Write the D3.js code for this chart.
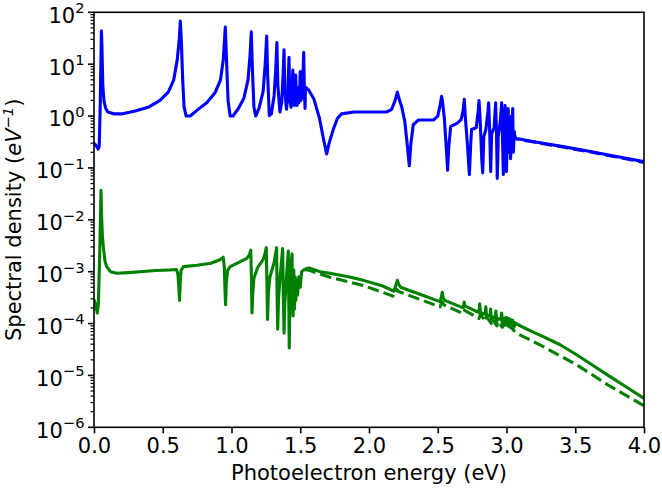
<!DOCTYPE html>
<html><head><meta charset="utf-8">
<script src="https://cdn.jsdelivr.net/npm/d3@7"></script>
<style>html,body{margin:0;padding:0;background:#fff}svg{display:block}text{font-family:"DejaVu Sans",sans-serif;fill:#000}</style>
</head><body>
<svg id="chart" width="662" height="488"></svg>
<script>
// ---- data (photoelectron energy in eV, spectral density in eV^-1) ----
const blueE = [0.000,0.015,0.030,0.038,0.045,0.050,0.054,0.058,0.064,0.072,0.085,0.10,0.15,0.20,0.30,0.40,0.48,0.54,0.58,0.605,0.62,0.628,0.636,0.645,0.655,0.67,0.70,0.75,0.82,0.88,0.92,0.94,0.955,0.965,0.975,0.99,1.01,1.05,1.09,1.12,1.135,1.144,1.152,1.163,1.176,1.20,1.23,1.245,1.256,1.263,1.275,1.29,1.31,1.322,1.33,1.337,1.352,1.365,1.375,1.382,1.388,1.40,1.41,1.418,1.424,1.433,1.44,1.446,1.451,1.457,1.462,1.467,1.472,1.477,1.485,1.49,1.495,1.50,1.505,1.51,1.515,1.52,1.525,1.53,1.535,1.538,1.56,1.60,1.64,1.67,1.692,1.71,1.74,1.77,1.80,1.89,2.00,2.13,2.165,2.19,2.206,2.22,2.238,2.26,2.28,2.293,2.305,2.322,2.36,2.47,2.50,2.515,2.528,2.537,2.548,2.56,2.572,2.58,2.594,2.64,2.67,2.685,2.693,2.70,2.715,2.73,2.74,2.746,2.78,2.795,2.80,2.808,2.82,2.827,2.835,2.85,2.865,2.87,2.878,2.885,2.892,2.91,2.921,2.927,2.933,2.94,2.955,2.965,2.971,2.977,2.983,2.99,2.995,3.00,3.006,3.012,3.018,3.024,3.03,3.036,3.042,3.045,3.05,3.056,3.062,3.074,3.20,3.40,3.60,3.80,4.00];
const blueV = [0.30,0.27,0.23,0.26,1.5,10,44,20,4,2.0,1.4,1.2,1.1,1.1,1.25,1.5,2.0,2.9,5,12,30,68,25,5,1.5,1.0,1.0,1.3,1.8,2.8,5,12,52,10,2,1.0,1.0,1.4,2.2,5,15,42,8,1.5,1.0,1.4,3,10,35,6,1.02,1.1,2.5,8,26,4,1.2,1.8,6,19,3,1.35,3,13.6,2,1.48,3,7.7,1.8,1.6,3,6.2,2,1.6,3.5,1.8,2.5,7.2,2,3,2.2,6,17,3,1.4,3.6,3.2,2.1,0.9,0.35,0.186,0.3,0.55,0.9,1.1,1.2,1.2,1.2,1.35,2.0,2.9,2.1,1.5,0.8,0.25,0.11,0.3,0.68,0.84,0.84,1.0,1.5,2.4,1.7,0.9,0.3,0.09,0.25,0.63,0.72,0.85,1.3,2.1,1.0,0.3,0.074,0.3,0.55,0.6,1.3,2.0,0.9,0.15,0.08,0.4,0.55,1.2,1.8,0.5,0.085,0.45,0.6,1.8,0.5,0.063,0.4,0.8,1.8,0.4,0.075,0.5,1.6,0.4,0.085,0.6,1.4,0.2,0.7,0.15,1.0,0.3,1.4,0.2,0.5,0.38,0.37,0.32,0.26,0.21,0.166,0.132];

const blueDashE = [3.056,3.062,3.074,3.20,3.40,3.60,3.80,4.00];
const blueDashV = [0.5,0.37,0.36,0.315,0.255,0.205,0.162,0.128];

const greenE = [0.000,0.012,0.024,0.032,0.040,0.046,0.051,0.056,0.062,0.068,0.08,0.092,0.12,0.165,0.25,0.335,0.45,0.55,0.60,0.61,0.617,0.622,0.627,0.633,0.65,0.75,0.85,0.916,0.94,0.948,0.953,0.957,0.962,0.972,0.99,1.05,1.11,1.13,1.14,1.145,1.149,1.155,1.163,1.19,1.23,1.245,1.253,1.258,1.262,1.268,1.28,1.31,1.328,1.332,1.336,1.342,1.355,1.365,1.372,1.377,1.382,1.388,1.40,1.408,1.413,1.417,1.42,1.425,1.432,1.44,1.444,1.448,1.453,1.458,1.463,1.468,1.475,1.48,1.49,1.50,1.51,1.53,1.545,1.57,1.644,1.716,1.85,1.96,2.10,2.18,2.195,2.206,2.215,2.23,2.33,2.444,2.516,2.526,2.533,2.54,2.55,2.686,2.692,2.697,2.80,2.805,2.81,2.815,2.82,2.845,2.85,2.855,2.86,2.88,2.885,2.89,2.895,2.918,2.923,2.928,2.933,2.96,2.965,2.97,2.975,2.99,2.996,3.002,3.01,3.018,3.025,3.032,3.04,3.046,3.055,3.06,3.074,3.17,3.267,3.39,3.51,3.63,3.753,3.88,4.00];
const greenV = [2.9e-4,2.3e-4,1.6e-4,2.5e-4,1.5e-3,8e-3,3.7e-2,1e-2,4.5e-3,3e-3,1.6e-3,1.25e-3,1.0e-3,9.3e-4,9.6e-4,1.0e-3,1.05e-3,1.08e-3,1.1e-3,9e-4,5e-4,2.8e-4,6e-4,1.05e-3,1.25e-3,1.33e-3,1.45e-3,1.7e-3,1.9e-3,1.2e-3,4e-4,2.3e-4,6e-4,1.05e-3,1.25e-3,1.5e-3,1.8e-3,2.1e-3,2.6e-3,8e-4,1.6e-4,4e-4,7.5e-4,1.2e-3,1.7e-3,2.3e-3,2.9e-3,5e-4,1.2e-4,4e-4,8e-4,1.5e-3,2.9e-3,3e-4,7.8e-5,3e-4,9e-4,1.7e-3,2.8e-3,3e-4,6.5e-5,2.5e-4,8e-4,1.6e-3,2.5e-3,2e-4,3.4e-5,3e-4,1.2e-3,2.2e-3,2.5e-4,1.4e-4,1.07e-3,1.9e-4,8e-4,2.8e-4,7e-4,3.5e-4,8e-4,5e-4,1.0e-3,1.1e-3,1.15e-3,1.17e-3,1.0e-3,9.3e-4,8e-4,6.8e-4,5.3e-4,4.2e-4,5.5e-4,6.8e-4,5.8e-4,5.0e-4,4e-4,3.1e-4,2.65e-4,3.2e-4,4.0e-4,3.1e-4,2.8e-4,2.0e-4,2.6e-4,2.2e-4,1.62e-4,2.4e-4,1.7e-4,1.45e-4,1.6e-4,1.5e-4,2.1e-4,1.3e-4,1.45e-4,1.4e-4,1.9e-4,1.15e-4,1.35e-4,1.3e-4,1.75e-4,1.05e-4,1.25e-4,1.2e-4,1.6e-4,1.0e-4,1.2e-4,1.3e-4,9.5e-5,1.3e-4,9e-5,1.25e-4,8.5e-5,1.2e-4,8.5e-5,1.15e-4,8.5e-5,1.05e-4,9.8e-5,7.3e-5,5.6e-5,3.9e-5,2.5e-5,1.55e-5,9.5e-6,5.8e-6,3.6e-6];

const greenDashE = [1.53,1.571,1.716,1.96,2.10,2.185,2.20,2.22,2.33,2.516,2.53,2.545,2.686,2.695,2.80,2.81,2.85,2.855,2.89,2.895,2.93,2.935,2.97,2.975,3.01,3.02,3.05,3.074,3.267,3.51,3.753,4.00];
const greenDashV = [1.1e-3,1.05e-3,7.8e-4,5.4e-4,4.0e-4,3.3e-4,4.6e-4,4.1e-4,3.2e-4,2.1e-4,2.6e-4,2.3e-4,1.55e-4,1.8e-4,1.25e-4,1.5e-4,1.1e-4,1.35e-4,1.0e-4,1.25e-4,9e-5,1.1e-4,8.5e-5,1.0e-4,8e-5,9.5e-5,7.5e-5,6.5e-5,3.6e-5,1.6e-5,6.2e-6,2.6e-6];

const xTicks = [0.0,0.5,1.0,1.5,2.0,2.5,3.0,3.5,4.0];
const yExponents = [-6,-5,-4,-3,-2,-1,0,1,2];
const xLabel = "Photoelectron energy (eV)";

// ---- drawing ----
const L = 94, R = 644, T = 12.3, B = 427.3;
const svg = d3.select("#chart");
const x = d3.scaleLinear().domain([0, 4]).range([L, R]);
const y = d3.scaleLog().domain([1e-6, 1e2]).range([B, T]);

svg.append("defs").append("clipPath").attr("id", "clip")
  .append("rect").attr("x", L).attr("y", T).attr("width", R - L).attr("height", B - T);

const line = d3.line().x(d => x(d[0])).y(d => y(d[1]));
const g = svg.append("g").attr("clip-path", "url(#clip)");
function draw(E, V, color, dashed) {
  g.append("path").datum(E.map((e, i) => [e, V[i]]))
    .attr("d", line).attr("fill", "none").attr("stroke", color)
    .attr("stroke-width", 3.1).attr("stroke-linejoin", "round")
    .attr("stroke-dasharray", dashed ? "11.5,5" : null);
}
draw(greenDashE, greenDashV, "#008000", true);
draw(greenE, greenV, "#008000", false);
draw(blueDashE, blueDashV, "#0000ff", true);
draw(blueE, blueV, "#0000ff", false);

// x axis
const xAxis = d3.axisBottom(x).tickValues(xTicks).tickFormat(d3.format(".1f")).tickSize(6).tickPadding(5);
const gx = svg.append("g").attr("transform", `translate(0,${B})`).call(xAxis);
gx.select(".domain").remove();
gx.selectAll(".tick line").attr("stroke", "#000").attr("stroke-width", 1.6);
gx.selectAll(".tick text").attr("font-size", 21).attr("font-family", "DejaVu Sans").attr("dy", "0.71em");

// y axis: major ticks
const gy = svg.append("g").attr("transform", `translate(${L},0)`);
const minor = [];
for (let p = -6; p < 2; p++) for (let m = 2; m <= 9; m++) minor.push(m * Math.pow(10, p));
gy.selectAll("line.minor").data(minor).join("line").attr("class", "minor")
  .attr("x1", -3.5).attr("x2", 0).attr("y1", d => y(d)).attr("y2", d => y(d))
  .attr("stroke", "#000").attr("stroke-width", 1.2);
gy.selectAll("line.major").data(yExponents).join("line").attr("class", "major")
  .attr("x1", -6).attr("x2", 0).attr("y1", d => y(Math.pow(10, d))).attr("y2", d => y(Math.pow(10, d)))
  .attr("stroke", "#000").attr("stroke-width", 1.6);
const yt = gy.selectAll("text.ylab").data(yExponents).join("text").attr("class", "ylab")
  .attr("x", -9.5).attr("y", d => y(Math.pow(10, d)) + 10.4)
  .attr("text-anchor", "end").attr("font-size", 21);
yt.append("tspan").text("10");
yt.append("tspan").attr("font-size", 14.7).attr("dy", -9.5)
  .text(d => (d < 0 ? "\u2212" : "") + Math.abs(d));

// frame
svg.append("rect").attr("x", L).attr("y", T).attr("width", R - L).attr("height", B - T)
  .attr("fill", "none").attr("stroke", "#000").attr("stroke-width", 1.6);

// axis labels
svg.append("text").attr("x", (L + R) / 2).attr("y", 480).attr("text-anchor", "middle")
  .attr("font-size", 21).text(xLabel);
const yl = svg.append("text").attr("transform", `translate(20.5,${(T + B) / 2}) rotate(-90)`)
  .attr("text-anchor", "middle").attr("font-size", 21);
yl.append("tspan").text("Spectral density (");
yl.append("tspan").attr("font-style", "italic").text("eV");
yl.append("tspan").attr("font-size", 14.7).attr("dy", -8).attr("font-style", "italic").text("\u22121");
yl.append("tspan").attr("dy", 8).text(")");
</script>
</body></html>
